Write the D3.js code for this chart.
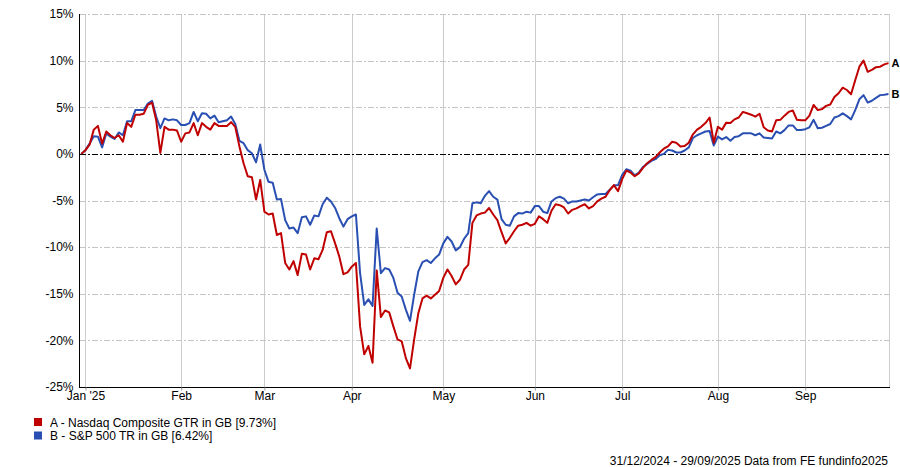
<!DOCTYPE html>
<html>
<head>
<meta charset="utf-8">
<script src="https://cdn.jsdelivr.net/npm/d3@7"></script>
<style>
    body { margin: 0; background: #fff; }
    svg text { font-family: "Liberation Sans", Arial, sans-serif; font-size: 12px; fill: #000; }
    .grid-h { stroke: #c4c4c4; stroke-dasharray: 6,2,2,2; }
    .grid-v { stroke: #cccccc; }
    .zero { stroke: #000; stroke-dasharray: 6,2,2,2; }
</style>
</head>
<body>
<script>
// weekday trading dates, 31/12/2024 - 29/09/2025
const dates = d3.timeDay.range(new Date(2024, 11, 31), new Date(2025, 8, 30))
    .filter(d => d.getDay() !== 0 && d.getDay() !== 6);

const yTicks = [15, 10, 5, 0, -5, -10, -15, -20, -25];

const seriesNames = ["A - Nasdaq Composite GTR in GB [9.73%]", "B - S&P 500 TR in GB [6.42%]"];
const seriesTags = ["A", "B"];
const seriesColors = ["#c00000", "#2a4fb2"];

// cumulative return, %
const nasdaq = [
    0, 0.4, 1.0, 2.6, 3.0, 1.1, 2.4, 2.0, 1.7, 2.0,
    1.3, 3.3, 2.9, 4.2, 4.2, 4.3, 5.25, 5.5, 3.6, 0.1,
    2.9, 2.6, 2.6, 2.5, 1.3, 2.2, 2.3, 3.3, 2.0, 3.3,
    2.9, 2.6, 3.3, 3.0, 3.0, 3.0, 3.4, 2.9, 0.8, -1.0,
    -2.4, -2.5, -4.9, -2.8, -6.2, -6.5, -6.4, -8.7, -8.5, -11.7,
    -12.4, -11.5, -13.0, -10.7, -10.8, -12.4, -11.2, -11.3, -10.3, -8.4,
    -8.3, -9.6, -11.0, -12.9, -12.7, -12.1, -11.7, -18.5, -21.5, -20.6,
    -22.4, -12.5, -17.5, -16.8, -17.0, -18.5, -19.9, -20.1, -21.9, -23.0,
    -19.9, -17.1, -15.5, -15.2, -15.5, -15.1, -14.7, -13.3, -12.4, -13.1,
    -14.0, -13.5, -12.4, -11.9, -7.4, -6.6, -6.4, -6.3, -5.8, -6.5,
    -7.1, -8.4, -9.6, -9.0, -8.3, -7.7, -7.6, -7.4, -7.7, -7.5,
    -6.7, -7.0, -7.4, -6.1, -5.4, -5.5, -5.75, -6.4, -6.0, -5.85,
    -5.6, -5.4, -5.85, -5.6, -5.1, -4.8, -4.6, -3.9, -3.35, -4.0,
    -2.7, -1.8, -2.0, -2.4, -2.1, -1.5, -1.0, -0.65, -0.35, 0.15,
    0.55, 0.8, 1.3, 1.2, 0.8, 0.85, 1.2, 2.1, 2.6, 2.9,
    3.3, 3.9, 1.2, 2.9, 2.6, 3.35, 3.3, 3.7, 3.9, 4.5,
    4.35, 4.2, 4.0, 4.3, 2.85, 2.5, 2.4, 3.6, 3.65, 4.1,
    4.5, 4.65, 3.65, 3.6, 3.6, 4.1, 5.25, 4.7, 4.8, 5.15,
    5.3, 6.1, 6.5, 7.1, 6.85, 6.4, 7.9, 9.35, 10.0, 8.8,
    9.0, 9.3, 9.35, 9.6, 9.73
];
const sp500 = [
    0, 0.4, 1.1, 1.9, 1.85, 0.7, 2.2, 1.85, 1.6, 2.3,
    2.0, 3.5, 3.5, 4.7, 4.7, 4.7, 5.4, 5.7, 4.0, 2.75,
    3.8, 3.6, 3.7, 3.6, 3.1, 3.1, 3.3, 4.5, 3.5, 4.35,
    4.3, 3.8, 4.1, 3.4, 3.5, 3.6, 4.0, 3.2, 1.4, 1.15,
    0.4, 0.07, -0.9, 1.0, -1.7, -3.0, -3.1, -4.9, -4.85, -7.1,
    -8.0, -7.9, -8.5, -6.8, -6.7, -7.6, -6.6, -6.7, -5.4, -4.7,
    -5.1, -5.8, -6.9, -7.8, -7.0, -6.7, -6.5, -12.8, -16.2, -15.6,
    -16.3, -8.0, -12.8, -12.25, -12.4, -13.3, -14.9, -15.3, -16.7, -17.9,
    -15.1, -12.6, -11.6, -11.4, -11.7, -11.2, -10.8, -9.6, -8.9, -9.4,
    -10.35, -10.0, -9.1, -8.5, -5.3, -5.2, -5.3, -4.5, -4.0, -4.6,
    -4.9, -7.0, -7.6, -7.7, -6.7, -6.35, -6.4, -6.2, -6.3, -5.6,
    -5.6, -6.2, -6.35, -5.1, -4.75, -4.6, -4.8, -5.3, -5.1, -5.1,
    -5.0, -4.9, -5.0, -4.65, -4.35, -4.3, -4.3, -3.85, -3.4, -3.35,
    -2.25, -1.65, -1.8, -2.3, -2.0, -1.4, -1.07, -0.75, -0.57, -0.15,
    0, 0.43, 0.36, 0.15, 0.15, 0.36, 0.7, 1.7, 2.0, 2.2,
    2.4, 2.45, 0.9, 1.85, 1.55, 1.8, 1.4, 1.8, 1.9, 2.2,
    2.2, 2.2, 2.0, 2.2, 1.75, 1.7, 1.65, 2.4, 2.2, 2.55,
    3.05, 3.05, 2.55, 2.55, 2.65, 2.85, 3.65, 2.75, 2.8, 3.0,
    3.2, 3.9, 4.05, 4.35, 4.05, 3.7, 4.7, 5.85, 6.3, 5.5,
    5.7, 6.0, 6.3, 6.35, 6.42
];
const series = [nasdaq, sp500];

const width = 900, height = 467;
const plotLeft = 80, plotRight = 889, plotTop = 14, plotBottom = 387;

const svg = d3.select('body').append('svg')
    .attr('width', width)
    .attr('height', height);

const x = d3.scaleLinear()
    .domain([0, dates.length - 1])
    .range([81.3, 888.5]);
const y = d3.scaleLinear()
    .domain([-25, 15])
    .range([plotBottom, plotTop]);

// first trading day of each month
const monthIdx = [];
dates.forEach((d, i) => {
    if (i > 0 && (i === 1 || d.getMonth() !== dates[i - 1].getMonth())) monthIdx.push(i);
});
const fmtMonth = d => d.getMonth() === 0 ? "Jan '" + d3.timeFormat('%y')(d) : d3.timeFormat('%b')(d);

// grid
svg.append('g').selectAll('line.grid-v')
    .data(monthIdx)
    .join('line')
    .attr('class', 'grid-v')
    .attr('x1', d => Math.round(x(d)) + 0.5).attr('x2', d => Math.round(x(d)) + 0.5)
    .attr('y1', plotTop).attr('y2', plotBottom);
svg.append('line').attr('class', 'grid-v')
    .attr('x1', plotRight + 0.5).attr('x2', plotRight + 0.5)
    .attr('y1', plotTop).attr('y2', plotBottom);

svg.append('g').selectAll('line.grid-h')
    .data(yTicks.filter(v => v !== 0 && v !== -25))
    .join('line')
    .attr('class', 'grid-h')
    .attr('x1', plotLeft).attr('x2', plotRight)
    .attr('y1', d => Math.round(y(d)) + 0.5).attr('y2', d => Math.round(y(d)) + 0.5);

svg.append('line').attr('class', 'zero')
    .attr('x1', plotLeft).attr('x2', plotRight)
    .attr('y1', Math.round(y(0)) + 0.5).attr('y2', Math.round(y(0)) + 0.5);

// axes
const yAxis = d3.axisLeft(y).tickValues(yTicks).tickSize(0).tickPadding(6)
    .tickFormat(d => d + '%');
svg.append('g')
    .attr('transform', `translate(${plotLeft - 0.5},0)`)
    .call(yAxis)
    .call(g => g.select('.domain').attr('stroke', '#000').attr('d', `M0,${plotTop}V${plotBottom + 0.5}`))
    .call(g => g.selectAll('text').attr('font-size', 12));

const xAxis = d3.axisBottom(x).tickValues(monthIdx).tickSize(3).tickPadding(1)
    .tickFormat(i => fmtMonth(dates[i]));
svg.append('g')
    .attr('transform', `translate(0,${plotBottom + 0.5})`)
    .call(xAxis)
    .call(g => g.select('.domain').attr('stroke', '#000').attr('d', `M${plotLeft - 1},0H${plotRight + 1}`))
    .call(g => g.selectAll('.tick line').attr('stroke', '#999'))
    .call(g => g.selectAll('text').attr('font-size', 12));

// lines
const line = d3.line()
    .x((d, i) => x(i))
    .y(d => y(d));

[1, 0].forEach(k => {
    svg.append('path')
        .datum(series[k])
        .attr('fill', 'none')
        .attr('stroke', seriesColors[k])
        .attr('stroke-width', 2)
        .attr('stroke-linejoin', 'round')
        .attr('d', line);
});

// end tags
series.forEach((s, k) => {
    svg.append('text')
        .attr('x', x(s.length - 1) + 3)
        .attr('y', y(s[s.length - 1]) + 4)
        .attr('font-weight', 'bold')
        .style('font-size', '11px')
        .text(seriesTags[k]);
});

// legend
const legend = svg.append('g').attr('transform', 'translate(34,418)');
seriesNames.forEach((name, k) => {
    legend.append('rect')
        .attr('x', 0).attr('y', k * 13.5)
        .attr('width', 8).attr('height', 8)
        .attr('fill', seriesColors[k]);
    legend.append('text')
        .attr('x', 16).attr('y', k * 13.5 + 8.5)
        .text(name);
});

svg.append('text')
    .attr('x', 888).attr('y', 465)
    .attr('text-anchor', 'end')
    .text('31/12/2024 - 29/09/2025 Data from FE fundinfo2025');
</script>
</body>
</html>
